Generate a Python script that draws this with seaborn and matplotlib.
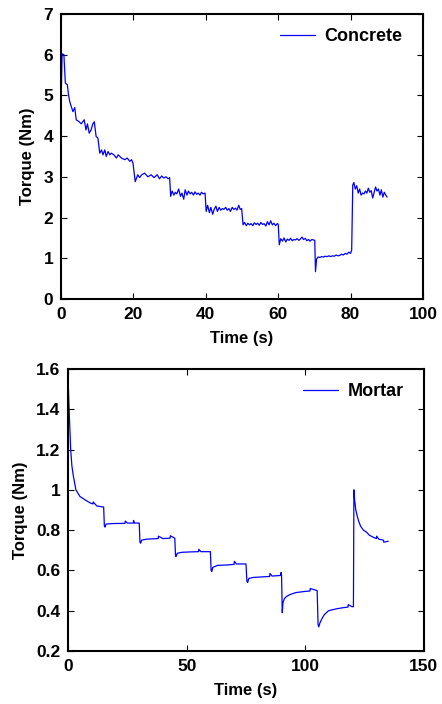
import matplotlib
matplotlib.use("Agg")
import matplotlib.pyplot as plt
import seaborn as sns
import pandas as pd

# ---------------- data ----------------
concrete_time = [0, 0.3, 0.8, 1.2, 1.75, 2.1, 2.4, 2.85, 3.3, 3.8, 4.2, 4.9, 5.6, 6.0, 6.4, 6.9, 7.3, 7.8,
                 8.3, 8.8, 9.2, 9.7, 10.2, 10.7, 11.2, 11.6, 12.1, 12.5, 13.0, 13.5, 13.9, 14.6, 15.3, 15.8,
                 16.7, 17.6, 18.3, 19.0, 19.5, 19.9, 20.5, 21.2, 21.7, 22.3, 23.1, 24.0, 24.9, 25.7, 26.6,
                 27.2, 27.8, 28.4, 29.0, 29.6, 30.0,
                 30.3, 30.7, 31.2, 31.6, 32.0, 32.5, 33.0, 33.4, 33.9, 34.3, 34.8, 35.2, 35.7, 36.1, 36.6,
                 37.0, 37.5, 37.9, 38.4, 38.8, 39.3, 39.8,
                 40.1, 40.5, 41.0, 41.4, 41.9, 42.3, 42.8, 43.2, 43.7, 44.1, 44.6, 45.0, 45.5, 45.9, 46.4,
                 46.8, 47.3, 47.7, 48.2, 48.6, 49.1, 49.5, 49.9,
                 50.3, 50.7, 51.2, 51.6, 52.1, 52.5, 53.0, 53.4, 53.9, 54.3, 54.8, 55.2, 55.7, 56.1, 56.6,
                 57.0, 57.5, 57.9, 58.4, 58.8, 59.3, 59.7, 60.0,
                 60.3, 60.7, 61.2, 61.6, 62.1, 62.5, 63.0, 63.4, 63.9, 64.3, 64.8, 65.2, 65.7, 66.1, 66.6,
                 67.0, 67.5, 67.9, 68.4, 68.8, 69.3, 69.7, 70.1,
                 70.3, 70.6, 71.0, 71.5, 72.0, 72.5, 73.0, 73.5, 74.0, 74.5, 75.0, 75.5, 76.0, 76.5, 77.0,
                 77.5, 78.0, 78.5, 79.0, 79.5, 80.0, 80.3,
                 80.6, 80.9, 81.3, 81.7, 82.1, 82.5, 82.9, 83.3, 83.7, 84.1, 84.5, 84.9, 85.3, 85.7, 86.1,
                 86.5, 86.9, 87.3, 87.7, 88.1, 88.5, 88.9, 89.3, 89.7, 90.1]
concrete_torque = [4.7, 6.02, 6.0, 5.3, 5.26, 5.0, 4.85, 4.72, 4.6, 4.7, 4.4, 4.36, 4.3, 4.35, 4.4, 4.15, 4.3, 4.07,
                   4.15, 4.3, 4.35, 3.99, 3.95, 3.58, 3.66, 3.54, 3.66, 3.5, 3.62, 3.54, 3.58, 3.54, 3.46, 3.54,
                   3.46, 3.42, 3.46, 3.38, 3.42, 3.33, 2.88, 3.05, 2.98, 3.05, 3.09, 3.0, 3.05, 2.98, 3.05,
                   2.95, 3.02, 2.97, 3.0, 2.95, 2.98,
                   2.52, 2.65, 2.55, 2.62, 2.58, 2.7, 2.52, 2.6, 2.45, 2.68, 2.55, 2.65, 2.58, 2.62, 2.55,
                   2.63, 2.57, 2.6, 2.55, 2.62, 2.58, 2.6,
                   2.15, 2.3, 2.12, 2.25, 2.08, 2.2, 2.28, 2.15, 2.25, 2.18, 2.22, 2.2, 2.25, 2.18, 2.22,
                   2.15, 2.25, 2.2, 2.23, 2.18, 2.3, 2.2, 2.22,
                   1.82, 1.88, 1.8, 1.86, 1.82, 1.85, 1.8, 1.87, 1.83, 1.86, 1.81, 1.88, 1.83, 1.85, 1.79,
                   1.9, 1.82, 1.92, 1.82, 1.86, 1.8, 1.85, 1.84,
                   1.33, 1.48, 1.42, 1.5, 1.4, 1.47, 1.44, 1.49, 1.43, 1.46, 1.45, 1.48, 1.44, 1.47, 1.52,
                   1.46, 1.49, 1.43, 1.46, 1.42, 1.46, 1.45, 1.44,
                   0.67, 0.98, 1.03, 1.02, 1.04, 1.03, 1.05, 1.04, 1.06, 1.04, 1.06, 1.05, 1.08, 1.06, 1.07,
                   1.1, 1.08, 1.12, 1.1, 1.15, 1.12, 1.2,
                   2.8, 2.86, 2.7, 2.78, 2.6, 2.7, 2.55, 2.6, 2.58, 2.65, 2.6, 2.72, 2.62, 2.66, 2.48,
                   2.62, 2.75, 2.65, 2.7, 2.55, 2.68, 2.5, 2.62, 2.55, 2.5]

mortar_time = [0.1, 0.5, 1.1, 1.6, 2.2, 3.3, 5.0, 7.2, 9.3, 10.5, 10.6, 12.1, 14.6, 15.0,
               15.3, 15.6, 16.0, 18.0, 20.0, 22.0, 24.0, 24.1, 25.0, 27.5, 27.6, 28.0, 30.0,
               30.3, 30.6, 31.0, 33.0, 36.0, 38.0, 38.1, 40.0, 43.0, 43.1, 45.0,
               45.3, 45.6, 46.0, 48.0, 52.0, 55.0, 55.1, 56.0, 60.0,
               60.3, 60.6, 61.0, 63.0, 67.0, 70.0, 70.1, 71.0, 75.0,
               75.4, 75.7, 76.2, 78.0, 82.0, 85.0, 85.1, 86.0, 89.6, 89.8, 90.0,
               90.3, 90.6, 91.2, 92.0, 93.5, 96.0, 99.4, 102.0, 102.1, 105.0,
               105.4, 105.7, 106.2, 107.0, 108.0, 109.8, 113.4, 116.0, 118.0, 118.1, 119.7, 120.3,
               120.5, 120.8, 121.3, 121.9, 122.5, 123.3, 124.5, 125.8, 127.0, 128.6, 130.0, 130.1,
               131.0, 133.0, 133.1, 135.0]
mortar_torque = [1.52, 1.38, 1.2, 1.12, 1.07, 1.0, 0.967, 0.95, 0.935, 0.93, 0.94, 0.92, 0.915, 0.915,
                 0.82, 0.815, 0.83, 0.832, 0.833, 0.833, 0.834, 0.845, 0.835, 0.835, 0.848, 0.835, 0.835,
                 0.74, 0.735, 0.75, 0.755, 0.757, 0.758, 0.77, 0.758, 0.76, 0.772, 0.76,
                 0.67, 0.67, 0.685, 0.69, 0.692, 0.693, 0.705, 0.693, 0.693,
                 0.6, 0.595, 0.615, 0.625, 0.627, 0.63, 0.645, 0.632, 0.632,
                 0.545, 0.54, 0.56, 0.565, 0.568, 0.57, 0.585, 0.572, 0.575, 0.59, 0.575,
                 0.39, 0.44, 0.46, 0.47, 0.48, 0.49, 0.495, 0.498, 0.51, 0.5,
                 0.33, 0.32, 0.34, 0.36, 0.38, 0.4, 0.41, 0.415, 0.418, 0.43, 0.42, 0.42,
                 1.0, 0.95, 0.9, 0.87, 0.845, 0.82, 0.8, 0.79, 0.775, 0.765, 0.758, 0.77,
                 0.755, 0.75, 0.74, 0.745]

top_xticks = [0, 20, 40, 60, 80, 100]
top_yticks = [0, 1, 2, 3, 4, 5, 6, 7]
bot_xticks = [0, 50, 100, 150]
bot_yticks = [0.2, 0.4, 0.6, 0.8, 1.0, 1.2, 1.4, 1.6]
bot_ylabels = ["0.2", "0.4", "0.6", "0.8", "1", "1.2", "1.4", "1.6"]

# ---------------- style ----------------
sns.set_style("ticks")
plt.rcParams['font.family'] = ['Liberation Sans', 'DejaVu Sans']
plt.rcParams['font.weight'] = 'bold'
plt.rcParams['axes.labelweight'] = 'bold'
for key in ('text.color', 'axes.labelcolor', 'xtick.color', 'ytick.color', 'axes.edgecolor'):
    plt.rcParams[key] = 'black'

fig = plt.figure(figsize=(4.42, 7.04), dpi=100)
ax1 = fig.add_axes([0.138, 0.5753, 0.819, 0.405])
ax2 = fig.add_axes([0.154, 0.0753, 0.805, 0.4006])

df_c = pd.DataFrame({"Time (s)": concrete_time, "Torque (Nm)": concrete_torque})
df_m = pd.DataFrame({"Time (s)": mortar_time, "Torque (Nm)": mortar_torque})

sns.lineplot(data=df_c, x="Time (s)", y="Torque (Nm)", ax=ax1, color="#0000ff",
             linewidth=0.9, label="Concrete", sort=False, estimator=None)
sns.lineplot(data=df_m, x="Time (s)", y="Torque (Nm)", ax=ax2, color="#0000ff",
             linewidth=0.9, label="Mortar", sort=False, estimator=None)

ax1.set_xlim(0, 100)
ax1.set_ylim(0, 7)
ax1.set_xticks(top_xticks)
ax1.set_yticks(top_yticks)
ax2.set_xlim(0, 150)
ax2.set_ylim(0.2, 1.6)
ax2.set_xticks(bot_xticks)
ax2.set_yticks(bot_yticks)
ax2.set_yticklabels(bot_ylabels)

for ax in (ax1, ax2):
    ax.tick_params(direction="in", top=True, right=True, length=4, width=0.8,
                   labelsize=12.5, colors="black")
    ax.tick_params(axis="x", pad=6)
    ax.tick_params(axis="y", pad=5.5)
    for lab in ax.get_xticklabels() + ax.get_yticklabels():
        lab.set_fontweight("bold")
    for sp in ax.spines.values():
        sp.set_visible(True)
        sp.set_linewidth(1.5)
        sp.set_color("black")
    ax.set_xlabel("Time (s)", fontsize=12, fontweight="bold", labelpad=6)
    ax.set_ylabel("Torque (Nm)", fontsize=12, fontweight="bold", labelpad=6)
    leg = ax.legend(loc="upper right", bbox_to_anchor=(0.983, 1.0), frameon=False,
                    fontsize=13, handlelength=1.95, handletextpad=0.5, borderaxespad=0.4)
    for t in leg.get_texts():
        t.set_fontweight("bold")

fig.savefig("out.png", dpi=100)
